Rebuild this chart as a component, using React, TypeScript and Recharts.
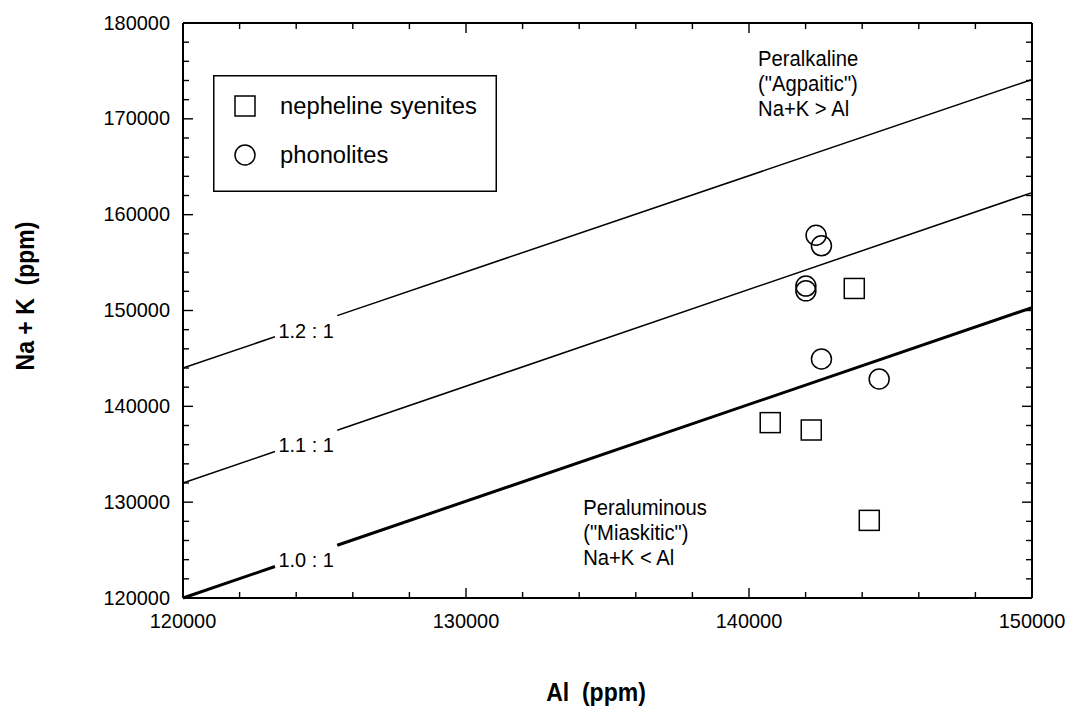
import React from 'react';
import { ScatterChart, Scatter, XAxis, YAxis, ReferenceLine, ReferenceDot, Legend, Label } from 'recharts';

const FONT = '"Liberation Sans", Arial, Helvetica, sans-serif';

// Data (ppm)
const syeniteAl = [143720, 140750, 142200, 144250];
const syeniteNaK = [152300, 138300, 137530, 128100];
const phonoliteAl = [142370, 142560, 142010, 142010, 142560, 144600];
const phonoliteNaK = [157850, 156750, 152550, 152050, 144940, 142850];

// Ratio reference lines
const ratioLabels = ['1.0 : 1', '1.1 : 1', '1.2 : 1'];
const ratioStartNaK = [120000, 132000, 144000];
const ratioEndNaK = [150300, 162300, 174100];
const lineAl = [120000, 150000];
const gapAl = [123250, 125450];
const labelAl = 124350;

// Field annotations
const alkalineLines = ['Peralkaline', '("Agpaitic")', 'Na+K > Al'];
const aluminousLines = ['Peraluminous', '("Miaskitic")', 'Na+K < Al'];

// Ticks
const xTicks = [120000, 122000, 124000, 126000, 128000, 130000, 132000, 134000, 136000, 138000, 140000, 142000, 144000, 146000, 148000, 150000];
const yTicks = [120000, 122000, 124000, 126000, 128000, 130000, 132000, 134000, 136000, 138000, 140000, 142000, 144000, 146000, 148000, 150000, 152000, 154000, 156000, 158000, 160000, 162000, 164000, 166000, 168000, 170000, 172000, 174000, 176000, 178000, 180000];

const syenites = syeniteAl.map((x, i) => ({ x, y: syeniteNaK[i] }));
const phonolites = phonoliteAl.map((x, i) => ({ x, y: phonoliteNaK[i] }));

const lineY = (i: number, x: number) =>
  ratioStartNaK[i] + ((ratioEndNaK[i] - ratioStartNaK[i]) * (x - lineAl[0])) / (lineAl[1] - lineAl[0]);

const isMajor = (v: number) => v % 10000 === 0;

const SText = ({ x, y, size, sx = 1, anchor = 'start', weight = 'normal', rotate = 0, dy, children }: any) => (
  <text
    transform={`translate(${x} ${y}) rotate(${rotate}) scale(${sx} 1)`}
    textAnchor={anchor}
    fontSize={size}
    fontWeight={weight}
    fontFamily={FONT}
    fill="#000"
    dy={dy}
    style={{ whiteSpace: 'pre' }}
  >
    {children}
  </text>
);

const TICK_FS = 21;
const TICK_SX = 0.95;

const LeftTick = (p: any) => {
  const { x, y, payload } = p;
  const major = isMajor(payload.value);
  return (
    <g>
      <line x1={x} y1={y} x2={x + (major ? 10 : 6)} y2={y} stroke="#000" strokeWidth={1.4} />
      {major && (
        <SText x={x - 13} y={y - 1} dy="0.36em" anchor="end" size={TICK_FS} sx={TICK_SX}>
          {String(payload.value)}
        </SText>
      )}
    </g>
  );
};
const RightTick = (p: any) => {
  const { x, y, payload } = p;
  const major = isMajor(payload.value);
  return <line x1={x} y1={y} x2={x - (major ? 10 : 6)} y2={y} stroke="#000" strokeWidth={1.4} />;
};
const BottomTick = (p: any) => {
  const { x, y, payload } = p;
  const major = isMajor(payload.value);
  return (
    <g>
      <line x1={x} y1={y} x2={x} y2={y - (major ? 10 : 6)} stroke="#000" strokeWidth={1.4} />
      {major && (
        <SText x={x} y={y + 30} anchor="middle" size={TICK_FS} sx={TICK_SX}>
          {String(payload.value)}
        </SText>
      )}
    </g>
  );
};
const TopTick = (p: any) => {
  const { x, y, payload } = p;
  const major = isMajor(payload.value);
  return <line x1={x} y1={y} x2={x} y2={y + (major ? 10 : 6)} stroke="#000" strokeWidth={1.4} />;
};

const SquareShape = (p: any) => (
  <rect x={p.cx - 10} y={p.cy - 10} width={20} height={20} fill="none" stroke="#000" strokeWidth={1.5} />
);
const CircleShape = (p: any) => <circle cx={p.cx} cy={p.cy} r={10} fill="none" stroke="#000" strokeWidth={1.5} />;

const LEG_W = 284;
const LEG_H = 117;
const LegendBox = () => (
  <svg width={LEG_W} height={LEG_H} style={{ display: 'block' }}>
    <rect x={0.75} y={0.75} width={LEG_W - 1.5} height={LEG_H - 1.5} fill="#fff" stroke="#000" strokeWidth={1.5} />
    <rect x={22} y={21} width={20} height={20} fill="none" stroke="#000" strokeWidth={1.5} />
    <circle cx={32} cy={80} r={10} fill="none" stroke="#000" strokeWidth={1.5} />
    <SText x={67} y={39} size={24} sx={0.99}>nepheline syenites</SText>
    <SText x={67} y={88} size={24} sx={0.99}>phonolites</SText>
  </svg>
);

const MultiText = (lines: string[], lh: number) => (props: any) => {
  const vb = props.viewBox || {};
  const x = vb.x ?? 0;
  const y = vb.y ?? 0;
  return (
    <g>
      {lines.map((t, i) => (
        <SText key={i} x={x} y={y + i * lh} size={22} sx={0.92}>
          {t}
        </SText>
      ))}
    </g>
  );
};

const RatioLabel = (text: string) => (props: any) => {
  const vb = props.viewBox || {};
  return (
    <SText x={vb.x ?? 0} y={(vb.y ?? 0) + 4} dy="0.36em" anchor="middle" size={21} sx={0.95}>
      {text}
    </SText>
  );
};

export default function App() {
  const segments: any[] = [];
  ratioLabels.forEach((lab, i) => {
    const w = i === 0 ? 3 : 1.5;
    segments.push(
      <ReferenceLine
        key={`a${i}`}
        segment={[
          { x: lineAl[0], y: lineY(i, lineAl[0]) },
          { x: gapAl[0], y: lineY(i, gapAl[0]) },
        ]}
        stroke="#000"
        strokeWidth={w}
      />,
      <ReferenceLine
        key={`b${i}`}
        segment={[
          { x: gapAl[1], y: lineY(i, gapAl[1]) },
          { x: lineAl[1], y: lineY(i, lineAl[1]) },
        ]}
        stroke="#000"
        strokeWidth={w}
      />,
      <ReferenceDot
        key={`c${i}`}
        x={labelAl}
        y={lineY(i, labelAl)}
        r={0}
        fill="none"
        stroke="none"
        label={{ content: RatioLabel(lab) as any }}
      />
    );
  });

  return (
    <div style={{ position: 'absolute', left: 0, top: 0, background: '#fff' }}>
      <ScatterChart width={1071} height={715} margin={{ top: 13, right: 29, bottom: 77, left: 83 }}>
        <XAxis
          dataKey="x"
          type="number"
          domain={[120000, 150000]}
          ticks={xTicks}
          interval={0}
          allowDataOverflow
          height={40}
          tickLine={false}
          tickSize={0}
          tickMargin={0}
          axisLine={{ stroke: '#000', strokeWidth: 2 }}
          tick={<BottomTick />}
        >
          <Label
            content={() => (
              <SText x={596} y={701} anchor="middle" size={25} sx={0.92} weight="bold">
                {'Al  (ppm)'}
              </SText>
            )}
          />
        </XAxis>
        <XAxis
          xAxisId="top"
          orientation="top"
          dataKey="x"
          type="number"
          domain={[120000, 150000]}
          ticks={xTicks}
          interval={0}
          allowDataOverflow
          height={10}
          tickLine={false}
          tickSize={0}
          tickMargin={0}
          axisLine={{ stroke: '#000', strokeWidth: 2 }}
          tick={<TopTick />}
        />
        <YAxis
          dataKey="y"
          type="number"
          domain={[120000, 180000]}
          ticks={yTicks}
          interval={0}
          allowDataOverflow
          width={100}
          tickLine={false}
          tickSize={0}
          tickMargin={0}
          axisLine={{ stroke: '#000', strokeWidth: 2 }}
          tick={<LeftTick />}
        >
          <Label
            content={() => (
              <SText x={25} y={296} rotate={-90} dy="0.35em" anchor="middle" size={25} sx={0.92} weight="bold">
                {'Na + K  (ppm)'}
              </SText>
            )}
          />
        </YAxis>
        <YAxis
          yAxisId="right"
          orientation="right"
          dataKey="y"
          type="number"
          domain={[120000, 180000]}
          ticks={yTicks}
          interval={0}
          allowDataOverflow
          width={10}
          tickLine={false}
          tickSize={0}
          tickMargin={0}
          axisLine={{ stroke: '#000', strokeWidth: 2 }}
          tick={<RightTick />}
        />
        {segments}
        <ReferenceDot
          x={140320}
          y={175500}
          r={0}
          fill="none"
          stroke="none"
          label={{ content: MultiText(alkalineLines, 25) as any }}
        />
        <ReferenceDot
          x={134140}
          y={128660}
          r={0}
          fill="none"
          stroke="none"
          label={{ content: MultiText(aluminousLines, 25) as any }}
        />
        <Scatter name="nepheline syenites" data={syenites} shape={SquareShape} isAnimationActive={false} />
        <Scatter name="phonolites" data={phonolites} shape={CircleShape} isAnimationActive={false} />
        <Legend
          layout="horizontal"
          verticalAlign="middle"
          align="center"
          wrapperStyle={{ left: 213, top: 75, width: LEG_W, height: LEG_H }}
          content={() => <LegendBox />}
        />
      </ScatterChart>
    </div>
  );
}
